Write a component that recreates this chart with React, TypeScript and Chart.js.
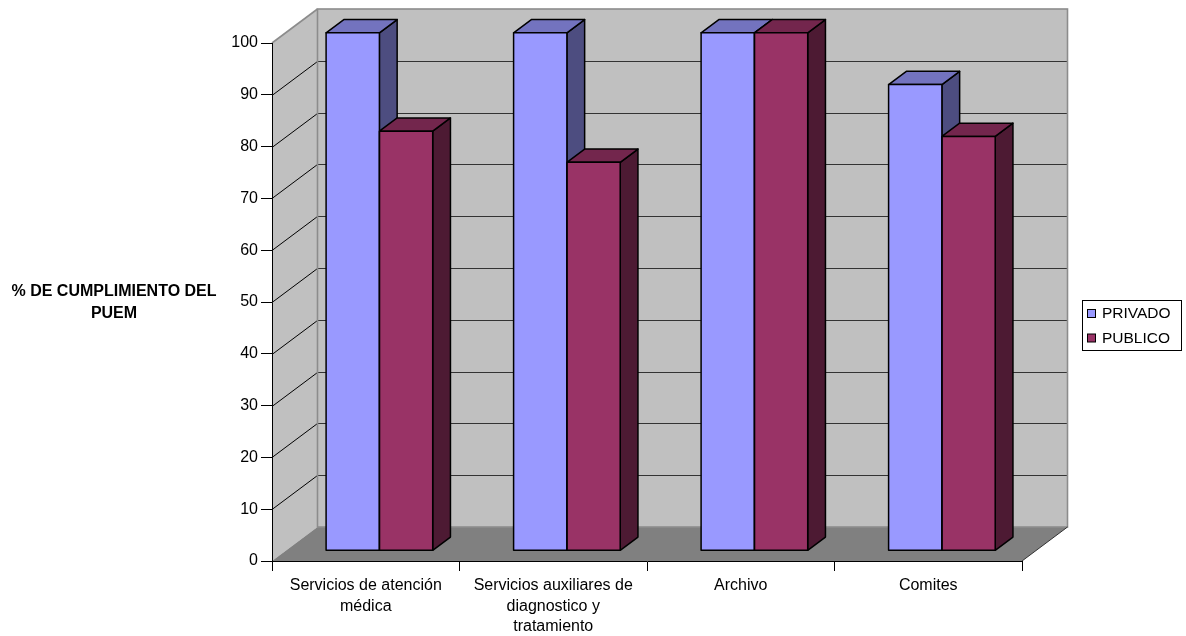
import { useEffect, useRef } from 'react';
import { Chart, registerables } from 'chart.js';

Chart.register(...registerables);

// ---- data ----
const categories: (string | string[])[] = [
  ['Servicios de atención', 'médica'],
  ['Servicios auxiliares de', 'diagnostico y', 'tratamiento'],
  'Archivo',
  'Comites',
];
const seriesNames = ['PRIVADO', 'PUBLICO'];
const privado = [100, 100, 100, 90];
const publico = [81, 75, 100, 80];
const yMin = 0;
const yMax = 100;
const yStep = 10;
const axisTitle = ['% DE CUMPLIMIENTO DEL', 'PUEM'];

// ---- styling ----
const FONT = '"Liberation Sans", Arial, Helvetica, sans-serif';
const WALL_DX = 45.5; // horizontal depth of the plot box
const WALL_DY = 34; // vertical depth of the plot box
const BAR_FRONT = 0.3; // fraction of depth where the bar front faces sit
const BAR_DEPTH = 0.39; // fraction of depth taken by each bar
const faces = [
  { front: '#9999FF', top: '#7373BF', side: '#4D4D80' },
  { front: '#993366', top: '#73264D', side: '#4D1A33' },
];

function poly(ctx: CanvasRenderingContext2D, pts: number[][]) {
  ctx.beginPath();
  ctx.moveTo(pts[0][0], pts[0][1]);
  for (let i = 1; i < pts.length; i++) ctx.lineTo(pts[i][0], pts[i][1]);
  ctx.closePath();
}

function barBox(el: any) {
  const p = el.getProps(['x', 'y', 'base', 'width'], true);
  return { l: p.x - p.width / 2, r: p.x + p.width / 2, t: p.y, b: p.base };
}

// Walls, floor, gridlines and the extruded faces of the bars.
const boxPlugin = {
  id: 'box3d',
  beforeDraw(chart: any) {
    const { ctx, chartArea: a } = chart;
    const y = chart.scales.y;
    const L = a.left;
    const R = a.right;
    const T = y.getPixelForValue(yMax);
    const B = y.getPixelForValue(yMin);
    const dx = WALL_DX;
    const dy = WALL_DY;
    ctx.save();
    ctx.fillStyle = '#FFFFFF';
    ctx.fillRect(0, 0, chart.width, chart.height);

    // left wall
    ctx.fillStyle = '#C0C0C0';
    poly(ctx, [[L, T], [L + dx, T - dy], [L + dx, B - dy], [L, B]]);
    ctx.fill();
    // back wall
    ctx.fillRect(L + dx, T - dy, R - L, B - T);
    // floor
    ctx.fillStyle = '#808080';
    poly(ctx, [[L, B], [L + dx, B - dy], [R + dx, B - dy], [R, B]]);
    ctx.fill();

    // gridlines on back wall and left wall
    y.ticks.forEach((t: any) => {
      if (t.value <= yMin || t.value >= yMax) return;
      const py = Math.round(y.getPixelForValue(t.value)) + 0.5;
      ctx.strokeStyle = '#333333';
      ctx.lineWidth = 1.2;
      ctx.beginPath();
      ctx.moveTo(L + dx, py - dy);
      ctx.lineTo(R + dx, py - dy);
      ctx.stroke();
      ctx.strokeStyle = '#000000';
      ctx.lineWidth = 1;
      ctx.beginPath();
      ctx.moveTo(L, py);
      ctx.lineTo(L + dx, py - dy);
      ctx.stroke();
    });

    // wall borders
    ctx.strokeStyle = '#8C8C8C';
    ctx.lineWidth = 1.6;
    ctx.strokeRect(L + dx, T - dy, R - L, B - T);
    ctx.beginPath();
    ctx.moveTo(L, T);
    ctx.lineTo(L + dx, T - dy);
    ctx.stroke();
    // floor front-right edge
    ctx.strokeStyle = '#333333';
    ctx.lineWidth = 1;
    ctx.beginPath();
    ctx.moveTo(R, B);
    ctx.lineTo(R + dx, B - dy);
    ctx.stroke();
    ctx.restore();
  },
  beforeDatasetsDraw(chart: any) {
    const ctx = chart.ctx;
    ctx.save();
    // bars stand part-way into the box
    ctx.translate(WALL_DX * BAR_FRONT, -WALL_DY * BAR_FRONT);
    const ddx = WALL_DX * BAR_DEPTH;
    const ddy = WALL_DY * BAR_DEPTH;
    ctx.lineWidth = 1.5;
    ctx.strokeStyle = '#000000';
    ctx.lineJoin = 'round';
    // side and top faces, left to right, so each bar hides the one behind
    const n = categories.length;
    for (let i = 0; i < n; i++) {
      chart.data.datasets.forEach((_: any, di: number) => {
        const el = chart.getDatasetMeta(di).data[i];
        if (!el) return;
        const { l, r, t, b } = barBox(el);
        const c = faces[di];
        ctx.fillStyle = c.side;
        poly(ctx, [[r, t], [r + ddx, t - ddy], [r + ddx, b - ddy], [r, b]]);
        ctx.fill();
        ctx.stroke();
        ctx.fillStyle = c.top;
        poly(ctx, [[l, t], [l + ddx, t - ddy], [r + ddx, t - ddy], [r, t]]);
        ctx.fill();
        ctx.stroke();
      });
    }
  },
  afterDatasetsDraw(chart: any) {
    const ctx = chart.ctx;
    ctx.lineWidth = 1.5;
    ctx.strokeStyle = '#000000';
    chart.data.datasets.forEach((_: any, di: number) => {
      chart.getDatasetMeta(di).data.forEach((el: any) => {
        const { l, r, t, b } = barBox(el);
        ctx.strokeRect(l, t, r - l, b - t);
      });
    });
    ctx.restore();
  },
  afterDraw(chart: any) {
    const ctx = chart.ctx;
    ctx.save();
    // axis title
    ctx.fillStyle = '#000000';
    ctx.font = `bold 16px ${FONT}`;
    ctx.textAlign = 'center';
    ctx.textBaseline = 'middle';
    axisTitle.forEach((line, i) => ctx.fillText(line, 114, 292 + i * 21.5));

    // legend
    const bx = 1082;
    const by = 300;
    ctx.strokeStyle = '#000000';
    ctx.lineWidth = 1;
    ctx.strokeRect(bx + 0.5, by + 0.5, 99, 50);
    ctx.font = `15.5px ${FONT}`;
    ctx.textAlign = 'left';
    chart.data.datasets.forEach((ds: any, i: number) => {
      const cy = by + 13.5 + i * 24.5;
      ctx.fillStyle = ds.backgroundColor;
      ctx.fillRect(bx + 5.5, cy - 4, 8, 8);
      ctx.strokeRect(bx + 5.5, cy - 4, 8, 8);
      ctx.fillStyle = '#000000';
      ctx.fillText(ds.label, bx + 20, cy + 0.5);
    });
    ctx.restore();
  },
};

export default function App() {
  const ref = useRef<HTMLCanvasElement | null>(null);

  useEffect(() => {
    if (!ref.current) return;
    const chart = new Chart(ref.current, {
      type: 'bar',
      data: {
        labels: categories,
        datasets: [
          {
            label: seriesNames[0],
            data: privado,
            backgroundColor: faces[0].front,
            borderWidth: 0,
            clip: false as any,
            categoryPercentage: 0.5686,
            barPercentage: 1,
          },
          {
            label: seriesNames[1],
            data: publico,
            backgroundColor: faces[1].front,
            borderWidth: 0,
            clip: false as any,
            categoryPercentage: 0.5686,
            barPercentage: 1,
          },
        ],
      },
      options: {
        responsive: false,
        animation: false,
        events: [],
        layout: { padding: { top: 43, right: 164, left: 0, bottom: 0 } },
        plugins: {
          legend: { display: false },
          tooltip: { enabled: false },
        },
        scales: {
          x: {
            type: 'category',
            offset: true,
            grid: {
              offset: true,
              drawOnChartArea: false,
              drawTicks: true,
              tickLength: 10,
              color: '#000000',
              lineWidth: 1,
            },
            border: { display: true, color: '#000000', width: 1 },
            ticks: {
              color: '#000000',
              font: { family: FONT, size: 16, lineHeight: 1.3 },
              padding: 4,
              maxRotation: 0,
              autoSkip: false,
            },
            afterFit: (s: any) => {
              s.height = 75;
            },
          },
          y: {
            min: yMin,
            max: yMax,
            grid: {
              drawOnChartArea: false,
              drawTicks: true,
              tickLength: 11,
              color: '#000000',
              lineWidth: 1,
            },
            border: { display: true, color: '#000000', width: 1 },
            ticks: {
              stepSize: yStep,
              color: '#000000',
              font: { family: FONT, size: 16 },
              padding: 3,
            },
            afterFit: (s: any) => {
              s.width = 272;
            },
          },
        },
      },
      plugins: [boxPlugin],
    });
    return () => chart.destroy();
  }, []);

  return (
    <div style={{ position: 'absolute', left: 0, top: 0, width: 1186, height: 636 }}>
      <canvas ref={ref} width={1186} height={636} style={{ display: 'block' }} />
    </div>
  );
}
